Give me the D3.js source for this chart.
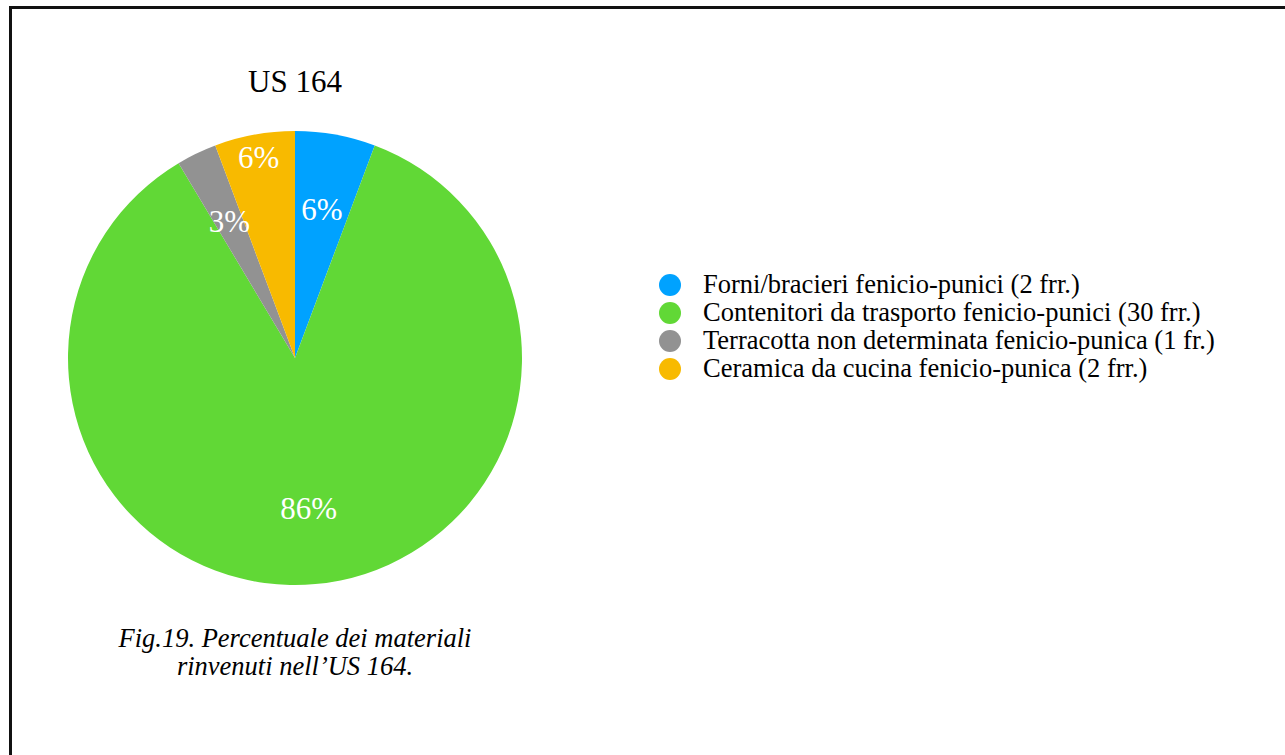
<!DOCTYPE html>
<html>
<head>
<meta charset="utf-8">
<script src="https://cdn.jsdelivr.net/npm/d3@7"></script>
<style>
  html, body { margin: 0; padding: 0; background: #fff; }
  svg { display: block; font-family: "Liberation Serif", "Times New Roman", serif; }
</style>
</head>
<body>
<svg id="chart" width="1285" height="755"></svg>
<script>
// Material counts found in stratigraphic unit 164
const categories = [
  "Forni/bracieri fenicio-punici (2 frr.)",
  "Contenitori da trasporto fenicio-punici (30 frr.)",
  "Terracotta non determinata fenicio-punica (1 fr.)",
  "Ceramica da cucina fenicio-punica (2 frr.)"
];
const counts = [2, 30, 1, 2];
const colors = ["#00A2FF", "#61D836", "#929292", "#F8BA00"];
const chartTitle = "US 164";
const captionLines = ["Fig.19. Percentuale dei materiali", "rinvenuti nell\u2019US 164."];

const svg = d3.select("#chart");
const W = 1285, H = 755;

// Outer frame (continues past the right and bottom edges)
svg.append("rect")
  .attr("x", 10.5).attr("y", 7.5)
  .attr("width", W + 20).attr("height", H + 20)
  .attr("fill", "none").attr("stroke", "#111").attr("stroke-width", 3);

const cx = 295, cy = 358, R = 227;

const total = d3.sum(counts);
const data = categories.map((c, i) => ({ name: c, value: counts[i], color: colors[i] }));

const pie = d3.pie().value(d => d.value).sort(null);
const arcs = pie(data);
const arc = d3.arc().innerRadius(0).outerRadius(R);

const g = svg.append("g").attr("transform", `translate(${cx},${cy})`);

g.selectAll("path.slice")
  .data(arcs)
  .join("path")
  .attr("class", "slice")
  .attr("d", arc)
  .attr("fill", d => d.data.color);

// Percentage labels; the last small slice label is pushed outward so it clears its neighbour
const labelRadius = i => (i === arcs.length - 1 ? R * 0.895 : R * 0.665);
g.selectAll("text.pct")
  .data(arcs)
  .join("text")
  .attr("class", "pct")
  .attr("transform", (d, i) => {
    const a = (d.startAngle + d.endAngle) / 2;
    const r = labelRadius(i);
    return `translate(${r * Math.sin(a)},${-r * Math.cos(a)})`;
  })
  .attr("text-anchor", "middle")
  .attr("dy", "0.33em")
  .attr("fill", "#fff")
  .style("font-size", "31px")
  .text(d => d3.format(".0%")(d.data.value / total));

// Title
svg.append("text")
  .attr("x", cx).attr("y", 92)
  .attr("text-anchor", "middle")
  .style("font-size", "31px")
  .attr("fill", "#000")
  .text(chartTitle);

// Legend
const legend = svg.append("g").attr("transform", "translate(670,285)");
const rowH = 28;
const rows = legend.selectAll("g.row")
  .data(data)
  .join("g")
  .attr("class", "row")
  .attr("transform", (d, i) => `translate(0,${i * rowH})`);
rows.append("circle").attr("r", 11).attr("fill", d => d.color);
rows.append("text")
  .attr("x", 33).attr("y", 8)
  .style("font-size", "26.5px")
  .attr("fill", "#000")
  .text(d => d.name);

// Caption
svg.append("text")
  .attr("text-anchor", "middle")
  .style("font-size", "26.5px")
  .style("font-style", "italic")
  .attr("fill", "#000")
  .selectAll("tspan")
  .data(captionLines)
  .join("tspan")
  .attr("x", cx)
  .attr("y", (d, i) => 647 + i * 28)
  .text(d => d);
</script>
</body>
</html>
